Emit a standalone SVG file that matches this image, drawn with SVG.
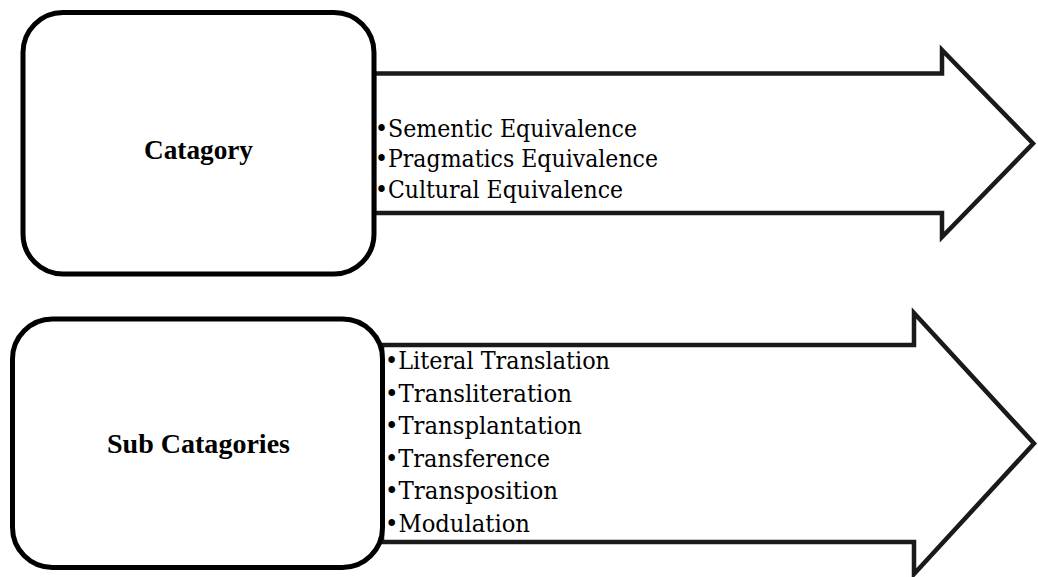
<svg xmlns="http://www.w3.org/2000/svg" width="1038" height="577" viewBox="0 0 1038 577">
<style>
.arrow{fill:#fff;stroke:#1a1a1a;stroke-width:4.5;stroke-linejoin:miter;stroke-miterlimit:10}
.box{fill:#fff;stroke:#000;stroke-width:5}
.title{font-family:"Liberation Serif","Times New Roman",serif;font-weight:bold;font-size:28px;fill:#000}
.item{font-family:"DejaVu Serif","Liberation Serif",serif;font-size:24px;fill:#000}
</style>
<rect width="1038" height="577" fill="#fff"/>
<g id="connectors">
  <path id="arrow-top" class="arrow" d="M374,73.5 H942 V50 L1033,143.5 L942,237 V213 H374 Z"/>
  <path id="arrow-bottom" class="arrow" d="M382,345 H914 V313 L1034,443.5 L914,574 V542 H382 Z"/>
</g>
<g id="node-category">
  <rect class="box" x="23" y="12.5" width="351" height="261.5" rx="40" ry="40"/>
  <text class="title" x="144" y="159" textLength="109" lengthAdjust="spacingAndGlyphs">Catagory</text>
</g>
<g id="node-subcategories">
  <rect class="box" x="12.5" y="319" width="370" height="248.5" rx="40" ry="40"/>
  <text class="title" x="107" y="453" textLength="183" lengthAdjust="spacingAndGlyphs">Sub Catagories</text>
</g>
<g id="list-category">
  <text class="item" x="375" y="136.5" textLength="262" lengthAdjust="spacingAndGlyphs">•Sementic Equivalence</text>
  <text class="item" x="375" y="167" textLength="283" lengthAdjust="spacingAndGlyphs">•Pragmatics Equivalence</text>
  <text class="item" x="375" y="197.5" textLength="248" lengthAdjust="spacingAndGlyphs">•Cultural Equivalence</text>
</g>
<g id="list-subcategories">
  <text class="item" x="385" y="369" textLength="225" lengthAdjust="spacingAndGlyphs">•Literal Translation</text>
  <text class="item" x="385" y="401.5" textLength="187" lengthAdjust="spacingAndGlyphs">•Transliteration</text>
  <text class="item" x="385" y="434" textLength="197" lengthAdjust="spacingAndGlyphs">•Transplantation</text>
  <text class="item" x="385" y="466.5" textLength="165" lengthAdjust="spacingAndGlyphs">•Transference</text>
  <text class="item" x="385" y="499" textLength="173" lengthAdjust="spacingAndGlyphs">•Transposition</text>
  <text class="item" x="385" y="531.5" textLength="145" lengthAdjust="spacingAndGlyphs">•Modulation</text>
</g>
</svg>
